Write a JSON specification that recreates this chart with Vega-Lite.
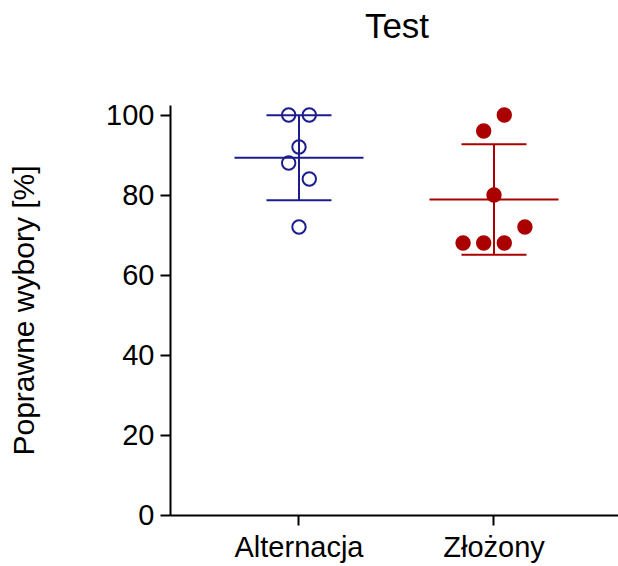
{
  "$schema": "https://vega.github.io/schema/vega-lite/v6.json",
  "autosize": {"type": "none"},
  "padding": {"left": 170, "top": 105, "right": 0, "bottom": 51},
  "width": 448,
  "height": 410,
  "title": {"text": "Test", "fontSize": 35, "font": "Liberation Sans", "fontWeight": "normal", "anchor": "middle", "offset": 56, "dx": 3, "color": "black"},
  "config": {
    "view": {"stroke": null},
    "font": "Liberation Sans",
    "axis": {"domainColor": "black", "domainWidth": 2, "tickColor": "black", "tickWidth": 2, "tickSize": 10, "labelColor": "black", "titleColor": "black", "grid": false, "labelFont": "Liberation Sans", "titleFont": "Liberation Sans", "titleFontWeight": "normal"}
  },
  "data": {"values": [
    {"group": "Alternacja", "value": 100, "slot": -1},
    {"group": "Alternacja", "value": 100, "slot": 1},
    {"group": "Alternacja", "value": 92, "slot": 0},
    {"group": "Alternacja", "value": 88, "slot": -1},
    {"group": "Alternacja", "value": 84, "slot": 1},
    {"group": "Alternacja", "value": 72, "slot": 0},
    {"group": "Złożony", "value": 100, "slot": 1},
    {"group": "Złożony", "value": 96, "slot": -1},
    {"group": "Złożony", "value": 80, "slot": 0},
    {"group": "Złożony", "value": 72, "slot": 3},
    {"group": "Złożony", "value": 68, "slot": -3},
    {"group": "Złożony", "value": 68, "slot": -1},
    {"group": "Złożony", "value": 68, "slot": 1}
  ]},
  "encoding": {
    "x": {"field": "group", "type": "nominal", "sort": ["Alternacja", "Złożony"],
      "scale": {"paddingInner": 0.5, "paddingOuter": 0.3987, "align": 0.516},
      "axis": {"title": null, "labelAngle": 0, "labelFontSize": 29, "labelPadding": 8}},
    "color": {"field": "group", "type": "nominal", "scale": {"domain": ["Alternacja", "Złożony"], "range": ["#1c1c8f", "#aa0000"]}, "legend": null}
  },
  "layer": [
    {
      "mark": {"type": "errorbar", "extent": "stdev", "ticks": {"opacity": 1}, "size": 65, "thickness": 2, "opacity": 1},
      "encoding": {
        "y": {"field": "value", "type": "quantitative", "scale": {"domain": [0, 102.5], "nice": false},
          "axis": {"values": [0, 20, 40, 60, 80, 100], "title": "Poprawne wybory [%]", "titleFontSize": 30, "labelFontSize": 29, "labelPadding": 6, "titlePadding": 66}}
      }
    },
    {
      "mark": {"type": "tick", "size": 129, "thickness": 2, "opacity": 1},
      "encoding": {
        "y": {"aggregate": "mean", "field": "value", "type": "quantitative"}
      }
    },
    {
      "mark": {"type": "point", "shape": "circle", "size": 180, "strokeWidth": 2, "opacity": 1},
      "encoding": {
        "y": {"field": "value", "type": "quantitative"},
        "xOffset": {"field": "slot", "type": "quantitative", "scale": {"domain": [-4.73, 4.73]}},
        "fill": {"field": "group", "type": "nominal", "scale": {"domain": ["Alternacja", "Złożony"], "range": ["transparent", "#aa0000"]}, "legend": null}
      }
    }
  ]
}
